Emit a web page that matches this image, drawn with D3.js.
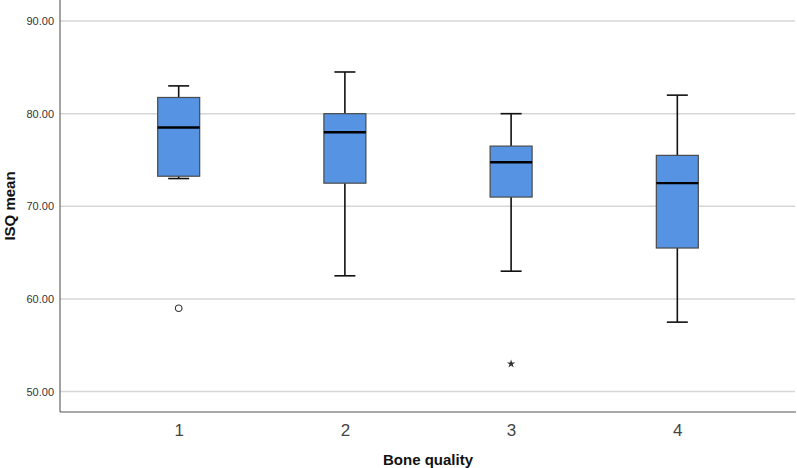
<!DOCTYPE html>
<html>
<head>
<meta charset="utf-8">
<script src="https://cdn.jsdelivr.net/npm/d3@7"></script>
<style>
  body { margin: 0; background: #fff; }
  svg text { font-family: Arial, "Liberation Sans", sans-serif; }
</style>
</head>
<body>
<svg id="chart" width="797" height="468"></svg>
<script>
'use strict';

// values
var groups = ['1', '2', '3', '4'];
var whiskerLow = [73, 62.5, 63, 57.5];
var q1 = [73.25, 72.5, 71, 65.5];
var medians = [78.5, 78, 74.75, 72.5];
var q3 = [81.75, 80, 76.5, 75.5];
var whiskerHigh = [83, 84.5, 80, 82];
var outliers = [{group: '1', value: 59, kind: 'circle'},
                {group: '3', value: 53, kind: 'star'}];
var yTicks = [50, 60, 70, 80, 90];

var plotLeft = 60, plotRight = 796, plotTop = 0, plotBottom = 412;
var boxWidth = 42, capWidth = 21;

var svg = d3.select('#chart');

var x = d3.scalePoint()
    .domain(groups)
    .range([plotLeft, plotRight])
    .padding(0.714);

var y = d3.scaleLinear()
    .domain([47.8, 92.27])
    .range([plotBottom, plotTop]);

// gridlines
svg.append('g')
    .selectAll('line')
    .data(yTicks)
  .enter().append('line')
    .attr('x1', plotLeft).attr('x2', plotRight - 1)
    .attr('y1', function(d) { return y(d); })
    .attr('y2', function(d) { return y(d); })
    .attr('stroke', '#d6d6d6')
    .attr('stroke-width', 1.5);

// y axis
var yAxis = svg.append('g')
    .attr('transform', 'translate(' + plotLeft + ',0)')
    .call(d3.axisLeft(y).tickValues(yTicks).tickSize(0).tickPadding(6)
          .tickFormat(d3.format('.2f')));
yAxis.select('.domain').remove();
yAxis.selectAll('text')
    .attr('font-size', 11)
    .attr('fill', '#333')
    .attr('font-family', 'Arial, "Liberation Sans", sans-serif');

svg.append('line')
    .attr('x1', plotLeft).attr('x2', plotLeft)
    .attr('y1', plotTop).attr('y2', plotBottom)
    .attr('stroke', '#666').attr('stroke-width', 1.2);

// x axis
var xAxis = svg.append('g')
    .attr('transform', 'translate(0,' + plotBottom + ')')
    .call(d3.axisBottom(x).tickSize(0).tickPadding(12));
xAxis.select('.domain').remove();
xAxis.selectAll('text')
    .attr('font-size', 17)
    .attr('fill', '#444')
    .attr('font-family', 'Arial, "Liberation Sans", sans-serif');

svg.append('line')
    .attr('x1', plotLeft).attr('x2', plotRight)
    .attr('y1', plotBottom).attr('y2', plotBottom)
    .attr('stroke', '#555').attr('stroke-width', 1.2);

// boxes
var box = svg.append('g')
    .selectAll('g')
    .data(groups)
  .enter().append('g')
    .attr('transform', function(d) { return 'translate(' + x(d) + ',0)'; });

// whiskers
box.append('line')
    .attr('x1', 0).attr('x2', 0)
    .attr('y1', function(d, i) { return y(whiskerHigh[i]); })
    .attr('y2', function(d, i) { return y(q3[i]); })
    .attr('stroke', '#111').attr('stroke-width', 1.6);
box.append('line')
    .attr('x1', 0).attr('x2', 0)
    .attr('y1', function(d, i) { return y(q1[i]); })
    .attr('y2', function(d, i) { return y(whiskerLow[i]); })
    .attr('stroke', '#111').attr('stroke-width', 1.6);
box.append('line')
    .attr('x1', -capWidth / 2).attr('x2', capWidth / 2)
    .attr('y1', function(d, i) { return y(whiskerHigh[i]); })
    .attr('y2', function(d, i) { return y(whiskerHigh[i]); })
    .attr('stroke', '#111').attr('stroke-width', 1.6);
box.append('line')
    .attr('x1', -capWidth / 2).attr('x2', capWidth / 2)
    .attr('y1', function(d, i) { return y(whiskerLow[i]); })
    .attr('y2', function(d, i) { return y(whiskerLow[i]); })
    .attr('stroke', '#111').attr('stroke-width', 1.6);

box.append('rect')
    .attr('x', -boxWidth / 2)
    .attr('width', boxWidth)
    .attr('y', function(d, i) { return y(q3[i]); })
    .attr('height', function(d, i) { return y(q1[i]) - y(q3[i]); })
    .attr('fill', '#5694e3')
    .attr('stroke', '#4a4a4a')
    .attr('stroke-width', 1.2);

box.append('line')
    .attr('x1', -boxWidth / 2).attr('x2', boxWidth / 2)
    .attr('y1', function(d, i) { return y(medians[i]); })
    .attr('y2', function(d, i) { return y(medians[i]); })
    .attr('stroke', '#000').attr('stroke-width', 2.4);

// outliers and extremes
var marks = svg.append('g')
    .selectAll('g')
    .data(outliers)
  .enter().append('g')
    .attr('transform', function(d) {
      return 'translate(' + x(d.group) + ',' + y(d.value) + ')';
    });
marks.filter(function(d) { return d.kind === 'circle'; })
  .append('circle')
    .attr('r', 3.3)
    .attr('fill', 'none')
    .attr('stroke', '#333')
    .attr('stroke-width', 1.1);
marks.filter(function(d) { return d.kind === 'star'; })
  .append('path')
    .attr('d', d3.symbol().type(d3.symbolStar).size(22))
    .attr('fill', '#333');

// axis titles
svg.append('text')
    .attr('transform', 'translate(15,' + ((plotTop + plotBottom) / 2) + ') rotate(-90)')
    .attr('text-anchor', 'middle')
    .attr('font-size', 15)
    .attr('font-weight', 'bold')
    .attr('fill', '#111')
    .text('ISQ mean');

svg.append('text')
    .attr('x', (plotLeft + plotRight) / 2)
    .attr('y', 465)
    .attr('text-anchor', 'middle')
    .attr('font-size', 15)
    .attr('font-weight', 'bold')
    .attr('fill', '#111')
    .text('Bone quality');
</script>
</body>
</html>
